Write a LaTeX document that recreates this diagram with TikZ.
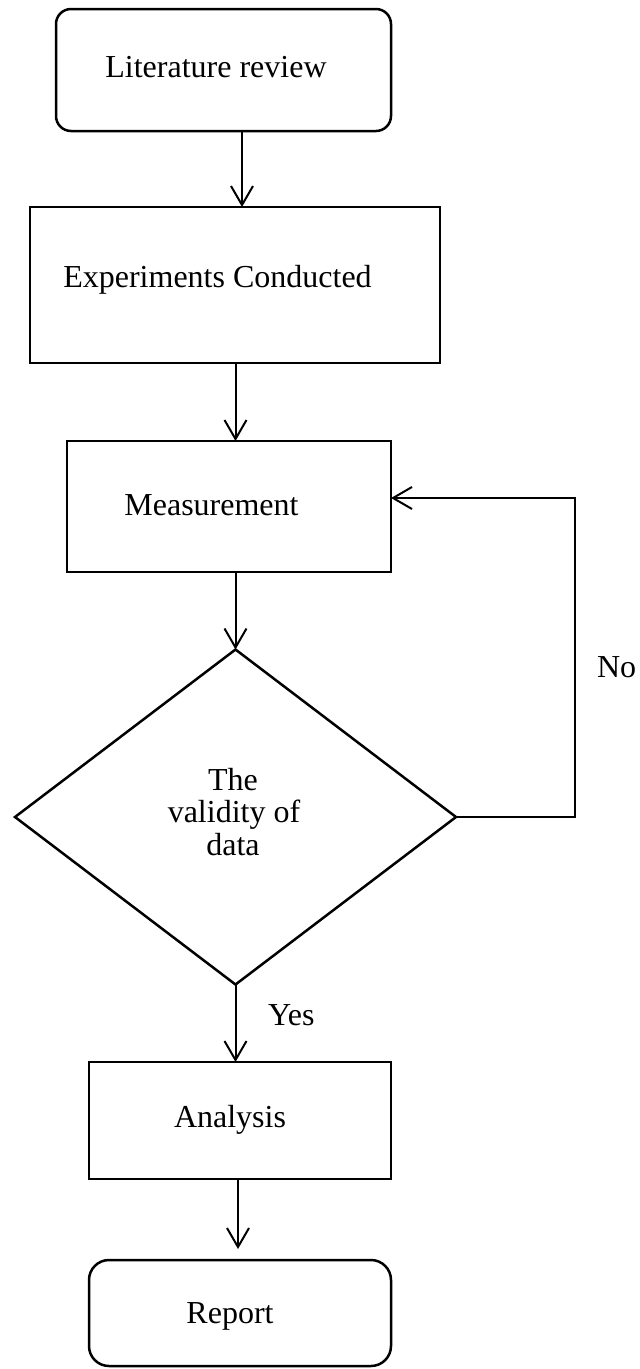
\documentclass[tikz,border=0pt]{standalone}
\usepackage{fontspec}
\setmainfont{Liberation Serif}
\usetikzlibrary{shapes.geometric,arrows.meta,calc}
\begin{document}
\begin{tikzpicture}[x=1pt,y=-1pt,
  every node/.style={inner sep=0pt, outer sep=0pt},
  box/.style={draw, line width=2.5pt, rectangle, anchor=north west},
  dia/.style={draw, line width=2.5pt, diamond, minimum width=441pt, minimum height=335pt},
  lbl/.style={font=\fontsize{32}{34}\selectfont, anchor=base},
  arr/.style={line width=2pt, -{Straight Barb[length=19pt,width=22pt]}}
]
\useasboundingbox (0,0) rectangle (640,1369);

% boxes
\node[box, rounded corners=15pt, minimum width=335pt, minimum height=122pt] (lit) at (56,9) {};
\node[box, minimum width=410pt, minimum height=156pt] (exp) at (30,207) {};
\node[box, minimum width=324pt, minimum height=131pt] (meas) at (67,441) {};
\node[dia] (val) at (235.5,817) {};
\node[box, minimum width=302pt, minimum height=117pt] (ana) at (89,1062) {};
\node[box, rounded corners=20pt, minimum width=302pt, minimum height=106pt] (rep) at (89,1260) {};

% texts
\node[lbl] (tlit) at (216,77) {Literature review};
\node[lbl] (texp) at (217.5,287) {Experiments Conducted};
\node[lbl] (tmeas) at (211.5,515) {Measurement};
\node[lbl] (tval1) at (233,790) {The};
\node[lbl] (tval2) at (234,822) {validity of};
\node[lbl] (tval3) at (233,855) {data};
\node[lbl] (tana) at (230,1127) {Analysis};
\node[lbl] (trep) at (230,1323) {Report};
\node[lbl, anchor=base west] (yes) at (268,1025) {Yes};
\node[lbl, anchor=base west] (no) at (597,677) {No};

% helper coordinates
\coordinate (c1) at (242,0);
\coordinate (c2) at (235.5,0);
\coordinate (c5) at (238,0);
\coordinate (fb) at (575,498);

% connectors
\draw[arr] (lit.south -| c1) -- (exp.north -| c1);
\draw[arr] (exp.south -| c2) -- (meas.north -| c2);
\draw[arr] (meas.south -| val.north) -- (val.north);
\draw[arr] (val.south) -- (val.south |- ana.north);
\draw[arr] (ana.south -| c5) -- ($(rep.north -| c5)+(0,-11)$);
\draw[arr] (val.east) -| (fb) -- (fb -| meas.east);
\end{tikzpicture}
\end{document}
